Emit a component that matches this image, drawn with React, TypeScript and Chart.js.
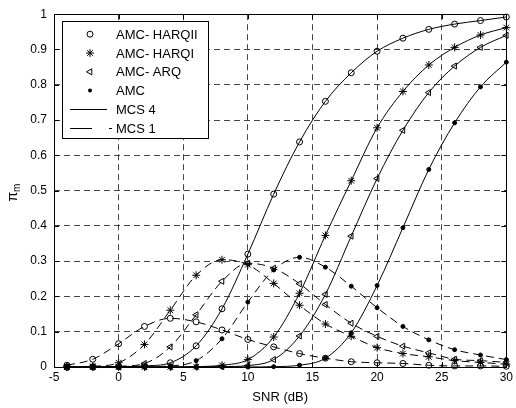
import React, { useEffect, useRef } from 'react';
import { Chart, registerables } from 'chart.js';

Chart.register(...registerables);

const snr = [-4, -2, 0, 2, 4, 6, 8, 10, 12, 14, 16, 18, 20, 22, 24, 26, 28, 30];

// MCS 4 (solid)
const harqiiMcs4 = [0, 0, 0.001, 0.003, 0.012, 0.06, 0.165, 0.32, 0.49, 0.638, 0.753, 0.834, 0.895, 0.932, 0.957, 0.972, 0.982, 0.992];
const harqiMcs4 = [0, 0, 0, 0, 0, 0.001, 0.005, 0.021, 0.085, 0.209, 0.373, 0.528, 0.678, 0.781, 0.856, 0.906, 0.941, 0.962];
const arqMcs4 = [0, 0, 0, 0, 0, 0, 0.001, 0.004, 0.021, 0.088, 0.206, 0.371, 0.534, 0.671, 0.778, 0.853, 0.906, 0.94];
const amcMcs4 = [0, 0, 0, 0, 0, 0, 0, 0, 0.001, 0.005, 0.025, 0.097, 0.231, 0.395, 0.56, 0.692, 0.794, 0.864];

// MCS 1 (dashed)
const harqiiMcs1 = [0.005, 0.022, 0.066, 0.115, 0.138, 0.128, 0.105, 0.078, 0.057, 0.038, 0.025, 0.015, 0.012, 0.01, 0.005, 0.003, 0.003, 0.002];
const harqiMcs1 = [0, 0.002, 0.012, 0.064, 0.161, 0.26, 0.304, 0.29, 0.237, 0.175, 0.122, 0.087, 0.055, 0.038, 0.029, 0.018, 0.013, 0.008];
const arqMcs1 = [0, 0, 0.002, 0.01, 0.057, 0.148, 0.243, 0.294, 0.28, 0.236, 0.177, 0.124, 0.087, 0.059, 0.04, 0.022, 0.018, 0.013];
const amcMcs1 = [0, 0, 0, 0.001, 0.003, 0.018, 0.08, 0.184, 0.275, 0.311, 0.283, 0.229, 0.168, 0.115, 0.077, 0.049, 0.034, 0.021];

const xMin = -5;
const xMax = 30;
const xStep = 5;
const yMin = 0;
const yMax = 1;
const yStep = 0.1;

const legendLabels = ['AMC- HARQII', 'AMC- HARQI', 'AMC- ARQ', 'AMC', 'MCS 4', 'MCS 1'];
const xTitle = 'SNR (dB)';
const yTitleMain = 'π';
const yTitleSub = 'm';

const FONT = '"Liberation Sans", Arial, Helvetica, sans-serif';

// target plot area in canvas pixels
const AREA = { left: 54, top: 9, right: 509, bottom: 367 };

type Marker = 'circle' | 'star' | 'triangle' | 'dot';

function markerProps(m: Marker) {
  switch (m) {
    case 'circle':
      return { pointStyle: 'circle', pointRadius: 3, pointBackgroundColor: 'rgba(0,0,0,0)', pointRotation: 0 };
    case 'star':
      return { pointStyle: 'star', pointRadius: 4, pointBackgroundColor: 'rgba(0,0,0,0)', pointRotation: 0 };
    case 'triangle':
      return { pointStyle: 'triangle', pointRadius: 3.5, pointBackgroundColor: 'rgba(0,0,0,0)', pointRotation: 270 };
    default:
      return { pointStyle: 'circle', pointRadius: 2, pointBackgroundColor: '#000', pointRotation: 0 };
  }
}

function makeDataset(values: number[], marker: Marker, dashed: boolean) {
  return {
    data: snr.map((x, i) => ({ x, y: values[i] })),
    borderColor: '#000',
    borderWidth: 1,
    borderDash: dashed ? [8, 5] : [],
    pointBorderColor: '#000',
    pointBorderWidth: 1,
    cubicInterpolationMode: 'monotone',
    fill: false,
    clip: false,
    ...markerProps(marker),
  };
}

function drawMarker(ctx: CanvasRenderingContext2D, m: Marker, x: number, y: number) {
  ctx.save();
  ctx.strokeStyle = '#000';
  ctx.fillStyle = '#000';
  ctx.lineWidth = 1;
  ctx.setLineDash([]);
  ctx.beginPath();
  if (m === 'circle') {
    ctx.arc(x, y, 3, 0, Math.PI * 2);
    ctx.stroke();
  } else if (m === 'dot') {
    ctx.arc(x, y, 2, 0, Math.PI * 2);
    ctx.fill();
  } else if (m === 'star') {
    const r = 4;
    for (let k = 0; k < 4; k++) {
      const a = (k * Math.PI) / 4;
      ctx.moveTo(x - r * Math.cos(a), y - r * Math.sin(a));
      ctx.lineTo(x + r * Math.cos(a), y + r * Math.sin(a));
    }
    ctx.stroke();
  } else {
    const r = 3.5;
    ctx.moveTo(x - r, y);
    ctx.lineTo(x + r * 0.5, y - r * 0.866);
    ctx.lineTo(x + r * 0.5, y + r * 0.866);
    ctx.closePath();
    ctx.stroke();
  }
  ctx.restore();
}

const decorPlugin = {
  id: 'matlabDecor',
  afterDatasetsDraw(chart: any) {
    const { ctx, chartArea } = chart;
    const { left, right, top, bottom } = chartArea;
    const xs = chart.scales.x;
    const ys = chart.scales.y;
    ctx.save();
    // frame
    ctx.strokeStyle = '#000';
    ctx.lineWidth = 1;
    ctx.setLineDash([]);
    ctx.strokeRect(Math.round(left) + 0.5, Math.round(top) + 0.5, Math.round(right - left), Math.round(bottom - top));
    // inward ticks
    const tl = 5;
    ctx.beginPath();
    for (let v = xMin; v <= xMax + 1e-9; v += xStep) {
      const px = Math.round(xs.getPixelForValue(v)) + 0.5;
      ctx.moveTo(px, bottom);
      ctx.lineTo(px, bottom - tl);
      ctx.moveTo(px, top);
      ctx.lineTo(px, top + tl);
    }
    for (let i = 0; i <= Math.round((yMax - yMin) / yStep); i++) {
      const v = yMin + i * yStep;
      const py = Math.round(ys.getPixelForValue(v)) + 0.5;
      ctx.moveTo(left, py);
      ctx.lineTo(left + tl, py);
      ctx.moveTo(right, py);
      ctx.lineTo(right - tl, py);
    }
    ctx.stroke();

    // legend
    const bx = left + 8;
    const by = top + 7;
    const bw = 146;
    const bh = 117;
    ctx.fillStyle = '#fff';
    ctx.fillRect(bx, by, bw, bh);
    ctx.strokeRect(Math.round(bx) + 0.5, Math.round(by) + 0.5, bw, bh);
    const markers: Marker[] = ['circle', 'star', 'triangle', 'dot'];
    const rowY = (i: number) => by + 13 + i * 18.8;
    ctx.fillStyle = '#000';
    ctx.font = `13px ${FONT}`;
    ctx.textBaseline = 'middle';
    ctx.textAlign = 'left';
    legendLabels.forEach((lab, i) => {
      const y = rowY(i);
      if (i < 4) {
        drawMarker(ctx, markers[i], bx + 28, y);
      } else if (i === 4) {
        ctx.beginPath();
        ctx.moveTo(bx + 8, Math.round(y) + 0.5);
        ctx.lineTo(bx + 45, Math.round(y) + 0.5);
        ctx.stroke();
      } else {
        ctx.beginPath();
        ctx.moveTo(bx + 8, Math.round(y) + 0.5);
        ctx.lineTo(bx + 30, Math.round(y) + 0.5);
        ctx.moveTo(bx + 47, Math.round(y) + 0.5);
        ctx.lineTo(bx + 50, Math.round(y) + 0.5);
        ctx.stroke();
      }
      ctx.fillText(lab, bx + 54, y + 1);
    });

    // axis titles
    ctx.font = `13px ${FONT}`;
    ctx.textAlign = 'center';
    ctx.textBaseline = 'middle';
    ctx.fillText(xTitle, (left + right) / 2, bottom + 30);

    ctx.save();
    ctx.translate(14, (top + bottom) / 2 + 2);
    ctx.rotate(-Math.PI / 2);
    ctx.textAlign = 'left';
    ctx.textBaseline = 'alphabetic';
    ctx.font = `14px ${FONT}`;
    const w1 = ctx.measureText(yTitleMain).width;
    ctx.font = `10px ${FONT}`;
    const w2 = ctx.measureText(yTitleSub).width;
    const start = -(w1 + w2) / 2;
    ctx.font = `14px ${FONT}`;
    ctx.fillText(yTitleMain, start, 3);
    ctx.font = `10px ${FONT}`;
    ctx.fillText(yTitleSub, start + w1, 6);
    ctx.restore();

    ctx.restore();
  },
};

export default function App() {
  const ref = useRef<HTMLCanvasElement | null>(null);

  useEffect(() => {
    document.body.style.margin = '0';
    const canvas = ref.current;
    if (!canvas) return;
    const padding = { top: AREA.top, right: 516 - AREA.right, left: 0, bottom: 0 };
    const chart = new Chart(canvas, {
      type: 'line',
      data: {
        datasets: [
          makeDataset(harqiiMcs4, 'circle', false),
          makeDataset(harqiMcs4, 'star', false),
          makeDataset(arqMcs4, 'triangle', false),
          makeDataset(amcMcs4, 'dot', false),
          makeDataset(harqiiMcs1, 'circle', true),
          makeDataset(harqiMcs1, 'star', true),
          makeDataset(arqMcs1, 'triangle', true),
          makeDataset(amcMcs1, 'dot', true),
        ] as any,
      },
      options: {
        animation: false,
        responsive: false,
        maintainAspectRatio: false,
        devicePixelRatio: 1,
        layout: { padding },
        plugins: { legend: { display: false }, tooltip: { enabled: false } },
        scales: {
          x: {
            type: 'linear',
            min: xMin,
            max: xMax,
            grid: { color: '#444', lineWidth: 1, drawTicks: false },
            border: { display: false, dash: [6, 4] },
            ticks: {
              stepSize: xStep,
              color: '#000',
              font: { family: FONT, size: 12 },
              padding: 3,
              maxRotation: 0,
              autoSkip: false,
              callback: (v: any) => String(v),
            },
            afterFit: (s: any) => {
              s.height = 408 - AREA.bottom;
            },
          },
          y: {
            type: 'linear',
            min: yMin,
            max: yMax,
            grid: { color: '#444', lineWidth: 1, drawTicks: false },
            border: { display: false, dash: [6, 4] },
            ticks: {
              stepSize: yStep,
              color: '#000',
              font: { family: FONT, size: 12 },
              padding: 7,
              autoSkip: false,
              callback: (v: any) => String(Math.round(Number(v) * 10) / 10),
            },
            afterFit: (s: any) => {
              s.width = AREA.left;
            },
          },
        },
      } as any,
      plugins: [decorPlugin],
    });
    // correct the plot area to match the target exactly
    for (let iter = 0; iter < 3; iter++) {
      const ca = chart.chartArea;
      const dTop = ca.top - AREA.top;
      const dBottom = ca.bottom - AREA.bottom;
      const dRight = ca.right - AREA.right;
      const dLeft = ca.left - AREA.left;
      if (Math.abs(dTop) < 0.5 && Math.abs(dBottom) < 0.5 && Math.abs(dRight) < 0.5 && Math.abs(dLeft) < 0.5) break;
      padding.top = Math.max(0, padding.top - dTop);
      padding.right = Math.max(0, padding.right + dRight);
      padding.bottom = Math.max(0, padding.bottom + dBottom);
      padding.left = Math.max(0, padding.left - dLeft);
      (chart.options as any).layout.padding = { ...padding };
      chart.update();
    }
    return () => chart.destroy();
  }, []);

  return (
    <div style={{ width: 516, height: 408, background: '#fff' }}>
      <canvas ref={ref} width={516} height={408} style={{ display: 'block', width: 516, height: 408 }} />
    </div>
  );
}
